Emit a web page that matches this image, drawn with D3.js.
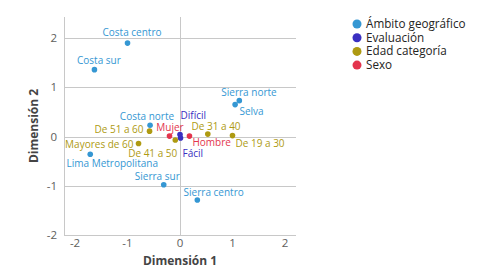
<!DOCTYPE html>
<html>
<head>
<meta charset="utf-8">
<script src="https://cdn.jsdelivr.net/npm/d3@7"></script>
<style>
  body { margin: 0; background: #fff; }
  svg { display: block; font-family: "Open Sans", "Noto Sans", sans-serif; }
</style>
</head>
<body>
<svg id="chart" width="485" height="274"></svg>
<script>
const groups = ['Ámbito geográfico', 'Evaluación', 'Edad categoría', 'Sexo']
const groupColors = ['#3597d3', '#3a2fc1', '#ae9a12', '#e3344d']

const names = [
  'Costa centro', 'Costa sur', 'Sierra norte', 'Selva', 'Costa norte', 'Lima Metropolitana',
  'Sierra sur', 'Sierra centro',
  'Difícil', 'Fácil',
  'De 51 a 60', 'De 31 a 40', 'De 19 a 30', 'Mayores de 60', 'De 41 a 50',
  'Mujer', 'Hombre'
]
const nameGroup = [0, 0, 0, 0, 0, 0, 0, 0, 1, 1, 2, 2, 2, 2, 2, 3, 3]
const dim1 = [-1.00, -1.63, 1.13, 1.05, -0.57, -1.71, -0.31, 0.33, 0.00, 0.01, -0.58, 0.53, 1.00, -0.79, -0.09, -0.20, 0.18]
const dim2 = [1.90, 1.36, 0.73, 0.65, 0.23, -0.36, -0.98, -1.29, 0.04, -0.03, 0.11, 0.05, 0.02, -0.14, -0.07, 0.01, 0.01]

// label placement relative to its point (pixels), like the label layout of the original
const labelDx = [4.5, 4.5, -18, 4.3, 24, -23.7, 16, -13.7, 0.5, 2, -6, 8.2, 3, -5, 2, 0.5, 3]
const labelDy = [-10.7, -9.3, -8.7, 6.7, -9, 9, -8, -8, -19.5, 15, -1.3, -8, 8.3, 0.7, 13, -9, 6]
const labelAnchor = ['middle', 'middle', 'start', 'start', 'end', 'start', 'end', 'start',
  'start', 'start', 'end', 'middle', 'start', 'end', 'end', 'middle', 'start']

const xTicks = [-2, -1, 0, 1, 2]
const yTicks = [-2, -1, 0, 1, 2]

const svg = d3.select('#chart')
const x = d3.scaleLinear().domain([-2.21, 2.21]).range([64, 296])
const y = d3.scaleLinear().domain([-2, 2.43]).range([235, 17])

// gridlines
svg.append('g')
  .selectAll('line')
  .data(yTicks)
  .join('line')
  .attr('x1', 64).attr('x2', 296)
  .attr('y1', d => Math.round(y(d)) + 0.5).attr('y2', d => Math.round(y(d)) + 0.5)
  .attr('stroke', '#c8c8c8')

svg.append('line')
  .attr('x1', 64.5).attr('x2', 64.5)
  .attr('y1', 17).attr('y2', y(-2))
  .attr('stroke', '#c8c8c8')
svg.append('line')
  .attr('x1', Math.round(x(0)) + 0.5).attr('x2', Math.round(x(0)) + 0.5)
  .attr('y1', 17).attr('y2', y(-2))
  .attr('stroke', '#c8c8c8')

// tick labels
svg.append('g')
  .selectAll('text')
  .data(xTicks)
  .join('text')
  .attr('x', d => x(d)).attr('y', 247)
  .attr('text-anchor', 'middle')
  .attr('font-size', 11.5)
  .attr('fill', '#605e5c')
  .text(d => d)

svg.append('g')
  .selectAll('text')
  .data(yTicks)
  .join('text')
  .attr('x', 57).attr('y', d => y(d) + 4)
  .attr('text-anchor', 'end')
  .attr('font-size', 11.5)
  .attr('fill', '#605e5c')
  .text(d => d)

// axis titles
svg.append('text')
  .attr('x', 180).attr('y', 265)
  .attr('text-anchor', 'middle')
  .attr('font-size', 12)
  .attr('font-weight', 'bold')
  .attr('fill', '#444')
  .text('Dimensión 1')

svg.append('text')
  .attr('transform', 'translate(38,126) rotate(-90)')
  .attr('text-anchor', 'middle')
  .attr('font-size', 12)
  .attr('font-weight', 'bold')
  .attr('fill', '#444')
  .text('Dimensión 2')

const points = names.map((n, i) => ({
  name: n, g: nameGroup[i], x: dim1[i], y: dim2[i],
  dx: labelDx[i], dy: labelDy[i], anchor: labelAnchor[i]
}))

// labels
svg.append('g')
  .selectAll('text')
  .data(points)
  .join('text')
  .attr('x', d => x(d.x) + d.dx)
  .attr('y', d => y(d.y) + d.dy + 3.6)
  .attr('text-anchor', d => d.anchor)
  .attr('font-size', 10)
  .attr('fill', d => groupColors[d.g])
  .text(d => d.name)

svg.append('g')
  .selectAll('circle')
  .data(points)
  .join('circle')
  .attr('cx', d => x(d.x))
  .attr('cy', d => y(d.y))
  .attr('r', 2.8)
  .attr('fill', d => groupColors[d.g])

// legend
const legend = svg.append('g')
  .selectAll('g')
  .data(groups)
  .join('g')
  .attr('transform', (d, i) => `translate(357,${24 + i * 13.7})`)
legend.append('circle').attr('r', 4.5).attr('fill', (d, i) => groupColors[i])
legend.append('text')
  .attr('x', 9).attr('y', 4)
  .attr('font-size', 11.7)
  .attr('fill', '#252423')
  .text(d => d)
</script>
</body>
</html>
